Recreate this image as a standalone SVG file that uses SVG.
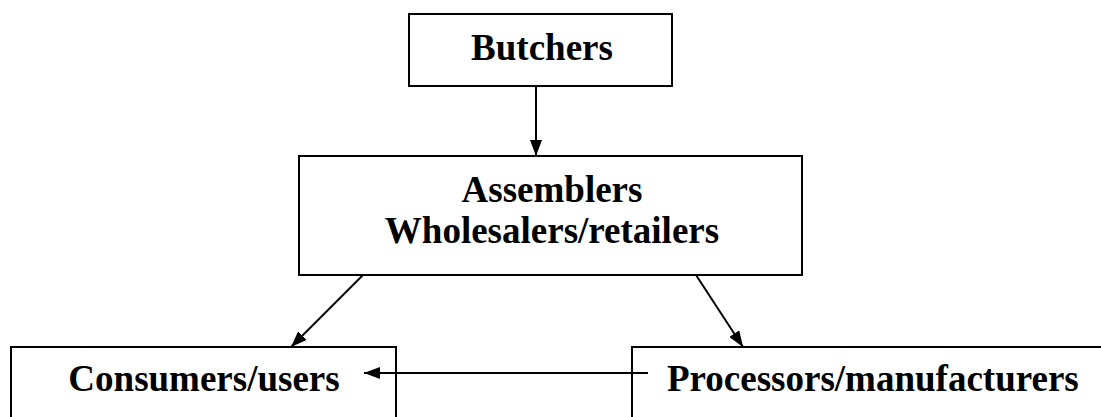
<svg xmlns="http://www.w3.org/2000/svg" width="1101" height="417" viewBox="0 0 1101 417">
<style>
.box{fill:#fff;stroke:#000;stroke-width:2}
.lbl{font-family:"Liberation Serif","Times New Roman",serif;font-weight:bold;font-size:37px;fill:#000}
.con{stroke:#000;stroke-width:2;fill:none;marker-end:url(#ah)}
</style>
<defs>
<marker id="ah" markerUnits="userSpaceOnUse" markerWidth="16" markerHeight="12" refX="16" refY="6" orient="auto">
<path d="M0,0 L16,6 L0,12 Z" fill="#000"/>
</marker>
</defs>
<rect width="1101" height="417" fill="#fff"/>
<g id="butchers">
<rect class="box" x="409" y="14" width="263" height="72"/>
<text class="lbl" x="542" y="60" text-anchor="middle">Butchers</text>
</g>
<g id="assemblers">
<rect class="box" x="299" y="156" width="503" height="119"/>
<text class="lbl" x="552" y="202" text-anchor="middle">Assemblers</text>
<text class="lbl" x="552" y="243" text-anchor="middle">Wholesalers/retailers</text>
</g>
<g id="consumers">
<rect class="box" x="11" y="347" width="385" height="90"/>
<text class="lbl" x="204" y="391" text-anchor="middle">Consumers/users</text>
</g>
<g id="processors">
<rect class="box" x="632" y="347" width="490" height="90"/>
<text class="lbl" x="667" y="391">Processors/manufacturers</text>
</g>
<g id="connectors">
<line class="con" x1="536" y1="86" x2="536" y2="156"/>
<line class="con" x1="363" y1="275" x2="291" y2="347"/>
<line class="con" x1="696" y1="275" x2="743" y2="347"/>
<line class="con" x1="648" y1="373" x2="364" y2="373"/>
</g>
</svg>
